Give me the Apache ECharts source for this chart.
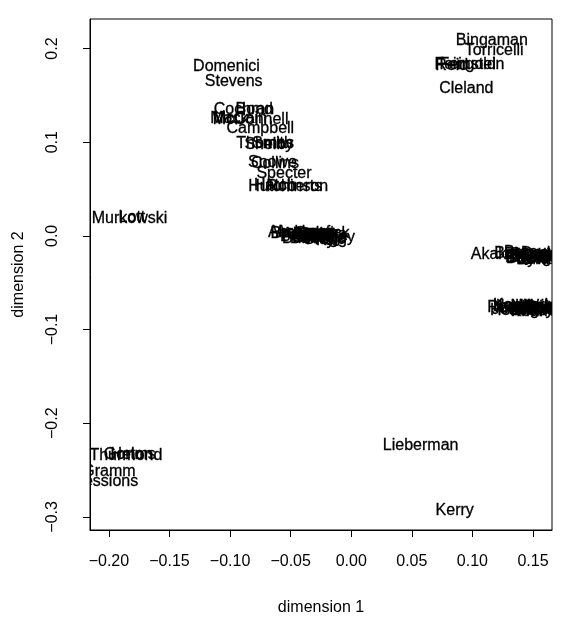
<!DOCTYPE html>
<html>
<head>
<meta charset="utf-8">
<script src="https://cdn.jsdelivr.net/npm/echarts@6/dist/echarts.min.js"></script>
<style>
  html, body { margin: 0; background: #fff; }
  #chart { width: 561px; height: 632px; }
</style>
</head>
<body>
<div id="chart"></div>
<script>
// senator labels with their two MDS coordinates
const senators = [
  "Domenici", "Stevens", "Cochran", "Bond", "Mack", "McCain", "McConnell", "Campbell",
  "Thomas", "Shelby", "Smith", "Snowe", "Collins", "Specter", "Hutchinson", "Roberts", "Hatch",
  "Murkowski", "Lott", "Thurmond", "Gorton", "Helms", "Gramm", "Sessions",
  "Lieberman", "Kerry", "Bingaman", "Torricelli", "Reid", "Feingold", "Feinstein", "Cleland",
  "Abraham", "Allard", "Ashcroft", "Bennett", "Brownback", "Bunning", "Burns", "Craig",
  "Crapo", "DeWine", "Enzi", "Frist", "Grams", "Grassley", "Gregg", "Inhofe", "Kyl",
  "Akaka", "Baucus", "Bayh", "Biden", "Boxer", "Breaux", "Bryan", "Byrd", "Conrad",
  "Daschle", "Dodd", "Dorgan", "Durbin", "Edwards", "Graham",
  "Reed", "Harkin", "Hollings", "Inouye", "Johnson", "Kennedy", "Kohl", "Landrieu",
  "Leahy", "Levin", "Lincoln", "Mikulski", "Murray", "Robb", "Schumer", "Wyden"
];
const dim1 = [
  -0.103, -0.097, -0.0885, -0.080, -0.1005, -0.092, -0.083, -0.075,
  -0.071, -0.068, -0.065, -0.065, -0.063, -0.0555, -0.052, -0.047, -0.063,
  -0.183, -0.181, -0.186, -0.184, -0.180, -0.200, -0.2026,
  0.0573, 0.0854, 0.116, 0.118, 0.083, 0.094, 0.0997, 0.095,
  -0.042, -0.040, -0.038, -0.036, -0.034, -0.033, -0.031, -0.030,
  -0.029, -0.027, -0.026, -0.025, -0.024, -0.023, -0.022, -0.021, -0.020,
  0.117, 0.140, 0.142, 0.143, 0.145, 0.147, 0.149, 0.150, 0.152,
  0.154, 0.156, 0.158, 0.160, 0.162, 0.164,
  0.128, 0.136, 0.138, 0.139, 0.141, 0.143, 0.145, 0.147,
  0.149, 0.151, 0.153, 0.155, 0.157, 0.159, 0.161, 0.163
];
const dim2 = [
  0.181, 0.165, 0.135, 0.135, 0.125, 0.125, 0.124, 0.114,
  0.098, 0.097, 0.099, 0.078, 0.077, 0.067, 0.053, 0.053, 0.054,
  0.0186, 0.019, -0.235, -0.234, -0.234, -0.252, -0.262,
  -0.224, -0.2933, 0.2085, 0.198, 0.182, 0.183, 0.1827, 0.157,
  0.003, 0.001, 0.004, -0.001, 0.002, -0.003, 0.001, -0.002,
  0.002, -0.003, 0.000, -0.004, 0.001, -0.002, -0.004, -0.001, -0.005,
  -0.0205, -0.019, -0.023, -0.020, -0.024, -0.018, -0.022, -0.025, -0.020,
  -0.023, -0.019, -0.024, -0.021, -0.025, -0.022,
  -0.077, -0.075, -0.080, -0.076, -0.079, -0.074, -0.081, -0.077,
  -0.080, -0.075, -0.079, -0.076, -0.081, -0.077, -0.079, -0.076
];
const xTicks = [-0.20, -0.15, -0.10, -0.05, 0.00, 0.05, 0.10, 0.15];
const yTicks = [-0.3, -0.2, -0.1, 0.0, 0.1, 0.2];

const fontFamily = '"Liberation Sans", Arial, sans-serif';

function fmt(v, d) {
  const s = Math.abs(v).toFixed(d);
  return (v < -1e-9 ? "\u2212" : "") + s;
}

const chart = echarts.init(document.getElementById("chart"));
chart.setOption({
  animation: false,
  grid: {
    left: 90,
    top: 19,
    right: 9,
    bottom: 102,
    show: true,
    borderColor: "#000",
    borderWidth: 1
  },
  xAxis: {
    type: "value",
    min: -0.2156,
    max: 0.1657,
    name: "dimension 1",
    nameLocation: "middle",
    nameGap: 70,
    nameTextStyle: { fontFamily: fontFamily, fontSize: 16, color: "#000" },
    axisLine: { show: true, onZero: false, lineStyle: { color: "#000" } },
    axisTick: { show: true, length: 7, customValues: xTicks, lineStyle: { color: "#000" } },
    axisLabel: {
      customValues: xTicks,
      margin: 24,
      fontFamily: fontFamily,
      fontSize: 16,
      color: "#000",
      formatter: (v) => fmt(v, 2)
    },
    splitLine: { show: false }
  },
  yAxis: {
    type: "value",
    min: -0.314,
    max: 0.2315,
    name: "dimension 2",
    nameLocation: "middle",
    nameGap: 63,
    nameTextStyle: { fontFamily: fontFamily, fontSize: 16, color: "#000" },
    axisLine: { show: true, onZero: false, lineStyle: { color: "#000" } },
    axisTick: { show: true, length: 7, customValues: yTicks, lineStyle: { color: "#000" } },
    axisLabel: {
      customValues: yTicks,
      rotate: 90,
      margin: 29,
      fontFamily: fontFamily,
      fontSize: 16,
      color: "#000",
      formatter: (v) => fmt(v, 1)
    },
    splitLine: { show: false }
  },
  series: [
    {
      type: "custom",
      clip: true,
      data: senators.map((n, i) => [dim1[i], dim2[i]]),
      renderItem: (params, api) => {
        const p = api.coord([api.value(0), api.value(1)]);
        return {
          type: "text",
          x: p[0],
          y: p[1],
          style: {
            text: senators[params.dataIndex],
            align: "center",
            verticalAlign: "middle",
            font: "16px " + fontFamily,
            fill: "#000",
            stroke: "#000",
            lineWidth: 0.3
          }
        };
      }
    }
  ]
});
</script>
</body>
</html>
